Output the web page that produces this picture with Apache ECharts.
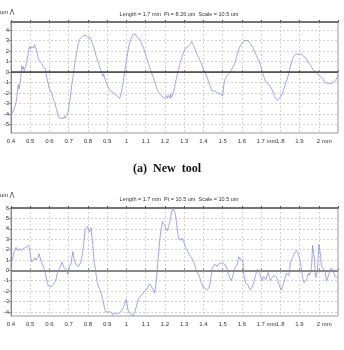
<!DOCTYPE html>
<html>
<head>
<meta charset="utf-8">
<script src="https://cdn.jsdelivr.net/npm/echarts@6/dist/echarts.min.js"></script>
<style>
html, body { margin: 0; padding: 0; background: #fff; }
#main { width: 344px; height: 350px; }
</style>
</head>
<body>
<div id="main"></div>
<script>
// tick labels
var xTickLabels = ['0.4', '0.5', '0.6', '0.7', '0.8', '0.9', '1', '1.1', '1.2', '1.3', '1.4', '1.5', '1.6', '1.7 mm', '1.8', '1.9', '2 mm', ''];
var yTicksTop = [-5, -4, -3, -2, -1, 0, 1, 2, 3, 4];
var yTicksBottom = [-4, -3, -2, -1, 0, 1, 2, 3, 4, 5, 6];

// profile of the new tool, [mm, um]
var newTool = [
  [0.400,-4.3],[0.405,-3.9],[0.410,-4.0],[0.415,-3.6],[0.421,-3.5],[0.426,-2.9],[0.430,-2.5],[0.434,-1.7],[0.438,-1.2],[0.442,-1.6],
  [0.447,-1.5],[0.451,-0.5],[0.456,0.6],[0.460,0.3],[0.464,0.5],[0.468,0.1],[0.473,0.0],[0.477,0.6],[0.482,1.0],[0.487,1.6],
  [0.491,2.0],[0.496,2.4],[0.500,2.2],[0.504,2.4],[0.508,2.3],[0.513,2.5],[0.517,2.3],[0.522,2.6],[0.526,2.5],[0.530,2.2],
  [0.534,2.0],[0.538,1.7],[0.543,1.2],[0.547,1.3],[0.551,1.0],[0.556,1.1],[0.560,0.8],[0.565,0.7],[0.569,0.5],[0.574,0.4],
  [0.578,0.3],[0.582,-0.1],[0.586,-0.5],[0.590,-0.9],[0.594,-1.1],[0.598,-1.5],[0.603,-1.7],[0.607,-1.8],[0.612,-2.0],[0.616,-2.3],
  [0.621,-2.6],[0.625,-2.8],[0.630,-3.0],[0.634,-3.4],[0.638,-3.6],[0.643,-4.0],[0.647,-4.3],[0.652,-4.4],[0.656,-4.3],[0.660,-4.4],
  [0.665,-4.4],[0.669,-4.3],[0.673,-4.4],[0.678,-4.2],[0.682,-4.4],[0.686,-4.2],[0.691,-4.3],[0.695,-4.0],[0.699,-3.5],[0.703,-3.0],
  [0.707,-2.6],[0.712,-1.8],[0.716,-1.2],[0.721,-0.6],[0.726,0.0],[0.730,0.6],[0.734,1.1],[0.739,1.6],[0.743,2.0],[0.747,2.5],
  [0.752,2.8],[0.756,3.1],[0.760,3.2],[0.765,3.3],[0.769,3.4],[0.773,3.3],[0.778,3.5],[0.782,3.6],[0.786,3.6],[0.790,3.5],
  [0.795,3.6],[0.799,3.3],[0.804,3.4],[0.808,3.2],[0.812,3.3],[0.817,3.0],[0.821,2.8],[0.825,2.6],[0.830,2.4],[0.834,2.1],
  [0.839,1.8],[0.843,1.5],[0.847,1.3],[0.852,1.0],[0.856,0.8],[0.860,0.5],[0.865,0.3],[0.869,0.1],[0.873,0.0],[0.878,-0.4],
  [0.882,-0.2],[0.886,-0.5],[0.891,-0.8],[0.895,-1.0],[0.900,-1.2],[0.904,-1.4],[0.908,-1.5],[0.913,-1.7],[0.917,-1.8],[0.921,-1.7],
  [0.926,-1.9],[0.930,-1.8],[0.934,-2.0],[0.939,-2.1],[0.943,-2.0],[0.947,-2.2],[0.952,-2.3],[0.956,-2.2],[0.960,-2.4],[0.964,-2.5],
  [0.969,-2.3],[0.973,-2.0],[0.978,-1.5],[0.982,-1.1],[0.987,-0.5],[0.991,0.0],[0.995,0.5],[0.999,1.0],[1.004,1.5],[1.008,2.0],
  [1.013,2.5],[1.017,2.8],[1.022,3.1],[1.027,3.3],[1.031,3.4],[1.035,3.6],[1.039,3.6],[1.044,3.5],[1.048,3.6],[1.052,3.4],
  [1.056,3.4],[1.061,3.2],[1.065,3.3],[1.069,3.1],[1.074,3.0],[1.078,2.7],[1.082,2.6],[1.087,2.4],[1.091,2.2],[1.095,1.9],
  [1.100,1.7],[1.104,1.4],[1.108,1.2],[1.113,0.9],[1.117,0.7],[1.121,0.4],[1.126,0.2],[1.130,-0.1],[1.135,-0.3],[1.140,-0.5],
  [1.144,-0.8],[1.148,-1.0],[1.152,-1.2],[1.157,-1.5],[1.161,-1.7],[1.165,-1.8],[1.169,-2.0],[1.174,-2.1],[1.178,-1.9],[1.182,-2.2],
  [1.187,-2.3],[1.191,-2.1],[1.195,-2.5],[1.200,-2.4],[1.204,-2.6],[1.208,-2.3],[1.213,-2.5],[1.217,-2.2],[1.222,-2.3],[1.226,-2.5],
  [1.230,-2.1],[1.235,-2.4],[1.239,-2.2],[1.245,-1.9],[1.250,-1.5],[1.255,-1.0],[1.260,-0.6],[1.265,-0.2],[1.270,0.2],[1.275,0.6],
  [1.280,0.9],[1.285,1.2],[1.290,1.5],[1.295,1.8],[1.300,2.0],[1.305,2.2],[1.310,2.3],[1.315,2.2],[1.320,2.4],[1.325,2.5],
  [1.330,2.6],[1.335,2.7],[1.340,2.9],[1.345,2.7],[1.350,2.5],[1.355,2.3],[1.360,2.0],[1.365,1.8],[1.370,1.6],[1.375,1.4],
  [1.380,1.2],[1.385,1.0],[1.390,0.8],[1.395,0.5],[1.400,0.3],[1.405,0.1],[1.410,-0.1],[1.415,-0.3],[1.420,-0.5],[1.425,-0.8],
  [1.430,-1.0],[1.435,-1.3],[1.440,-1.6],[1.445,-1.8],[1.450,-1.9],[1.455,-1.9],[1.460,-1.8],[1.465,-1.9],[1.470,-1.8],[1.475,-2.0],
  [1.480,-1.9],[1.485,-2.0],[1.490,-2.1],[1.495,-2.2],[1.500,-2.3],[1.503,-1.8],[1.507,-1.2],[1.511,-0.8],[1.515,-0.6],[1.520,-0.4],
  [1.525,-0.3],[1.530,-0.2],[1.535,-0.1],[1.540,0.0],[1.545,0.2],[1.550,0.3],[1.555,0.5],[1.560,0.6],[1.565,0.9],[1.570,1.3],
  [1.575,1.6],[1.580,1.9],[1.585,2.2],[1.590,2.4],[1.595,2.6],[1.600,2.7],[1.605,2.8],[1.610,2.9],[1.615,3.0],[1.620,2.9],
  [1.625,3.0],[1.630,3.0],[1.635,2.9],[1.640,2.9],[1.645,2.7],[1.650,2.6],[1.655,2.4],[1.660,2.2],[1.665,2.0],[1.670,1.8],
  [1.675,1.6],[1.680,1.4],[1.685,1.2],[1.690,1.0],[1.695,0.7],[1.700,0.5],[1.705,0.1],[1.710,-0.2],[1.715,-0.5],[1.720,-0.7],
  [1.725,-0.9],[1.730,-1.0],[1.735,-1.1],[1.740,-1.2],[1.745,-1.3],[1.750,-1.4],[1.755,-1.6],[1.760,-1.8],[1.765,-2.0],[1.770,-2.3],
  [1.775,-2.5],[1.780,-2.6],[1.785,-2.7],[1.790,-2.6],[1.795,-2.7],[1.800,-2.4],[1.805,-2.3],[1.810,-2.1],[1.815,-1.8],[1.820,-1.5],
  [1.825,-1.2],[1.830,-0.9],[1.835,-0.7],[1.840,-0.4],[1.845,0.0],[1.850,0.4],[1.855,0.7],[1.860,1.0],[1.865,1.3],[1.870,1.5],
  [1.875,1.6],[1.880,1.7],[1.885,1.8],[1.890,1.8],[1.895,1.7],[1.900,1.6],[1.905,1.7],[1.910,1.7],[1.915,1.6],[1.920,1.5],
  [1.925,1.6],[1.930,1.4],[1.935,1.3],[1.940,1.1],[1.945,1.0],[1.950,0.8],[1.955,0.7],[1.960,0.6],[1.965,0.4],[1.970,0.2],
  [1.975,0.3],[1.980,0.1],[1.985,0.0],[1.990,-0.1],[1.995,-0.2],[2.000,-0.3],[2.005,-0.4],[2.010,-0.5],[2.015,-0.5],[2.020,-0.6],
  [2.025,-0.8],[2.030,-0.9],[2.035,-1.0],[2.040,-1.0],[2.045,-1.1],[2.050,-1.1],[2.055,-1.0],[2.060,-1.0],[2.065,-1.1],[2.070,-1.1],
  [2.075,-1.0],[2.080,-0.9],[2.085,-0.8],[2.090,-0.7],[2.095,-0.5],[2.100,-0.3]
];

// profile of the worn tool, [mm, um]
var wornTool = [
  [0.400,0.5],[0.404,0.9],[0.409,1.2],[0.415,1.7],[0.421,2.0],[0.426,2.2],[0.430,2.2],[0.434,1.9],[0.438,1.9],[0.443,2.1],
  [0.447,2.1],[0.451,1.9],[0.456,1.9],[0.460,2.0],[0.464,2.1],[0.470,2.0],[0.474,2.2],[0.478,2.2],[0.484,2.1],[0.491,2.4],
  [0.495,2.2],[0.499,1.8],[0.503,1.2],[0.508,0.8],[0.512,0.9],[0.517,1.0],[0.521,1.1],[0.525,1.2],[0.530,1.0],[0.534,0.9],
  [0.540,1.2],[0.546,1.6],[0.550,1.3],[0.555,1.0],[0.560,0.7],[0.565,0.5],[0.571,0.2],[0.578,-0.2],[0.582,-0.6],[0.586,-1.0],
  [0.590,-1.3],[0.595,-1.5],[0.600,-1.4],[0.604,-1.4],[0.608,-1.6],[0.612,-1.5],[0.618,-1.4],[0.625,-1.4],[0.630,-1.1],[0.635,-0.8],
  [0.638,-0.5],[0.642,-0.2],[0.648,0.0],[0.656,0.3],[0.660,0.5],[0.665,0.8],[0.671,0.5],[0.677,0.2],[0.682,0.3],[0.687,0.3],
  [0.690,0.0],[0.694,-0.4],[0.700,0.0],[0.705,0.4],[0.712,0.6],[0.716,1.2],[0.722,1.8],[0.725,1.4],[0.729,1.0],[0.734,0.7],
  [0.739,0.5],[0.745,0.5],[0.752,0.4],[0.758,0.5],[0.764,0.8],[0.770,1.5],[0.774,2.0],[0.778,2.5],[0.782,3.3],[0.786,4.0],
  [0.792,4.1],[0.799,4.2],[0.803,3.9],[0.807,3.7],[0.812,3.9],[0.816,4.1],[0.820,3.4],[0.825,2.5],[0.829,1.5],[0.833,0.6],
  [0.839,0.2],[0.843,-0.5],[0.847,-1.0],[0.853,-1.5],[0.860,-1.8],[0.865,-2.0],[0.870,-2.3],[0.875,-2.7],[0.879,-3.0],[0.885,-3.5],
  [0.891,-4.0],[0.897,-3.9],[0.903,-4.0],[0.910,-4.1],[0.917,-4.0],[0.924,-4.1],[0.931,-4.3],[0.937,-4.1],[0.943,-4.0],[0.948,-4.2],
  [0.952,-4.3],[0.958,-4.1],[0.964,-4.1],[0.971,-4.0],[0.978,-3.8],[0.984,-3.6],[0.990,-3.3],[0.995,-3.0],[0.999,-2.8],[1.004,-3.3],
  [1.008,-3.8],[1.014,-4.0],[1.021,-4.2],[1.028,-4.3],[1.035,-4.4],[1.040,-4.2],[1.044,-4.0],[1.050,-3.6],[1.056,-3.2],[1.062,-2.8],
  [1.068,-2.6],[1.075,-2.5],[1.082,-2.3],[1.088,-2.2],[1.095,-2.0],[1.101,-1.9],[1.108,-1.8],[1.114,-1.5],[1.121,-1.3],[1.128,-1.5],
  [1.135,-1.6],[1.141,-1.9],[1.147,-2.2],[1.151,-1.6],[1.155,-1.0],[1.160,0.0],[1.164,1.0],[1.170,2.2],[1.175,3.2],[1.181,4.0],
  [1.187,4.7],[1.193,4.5],[1.199,4.3],[1.206,4.0],[1.213,3.8],[1.219,4.2],[1.225,4.6],[1.230,5.1],[1.235,5.6],[1.242,6.0],
  [1.249,6.0],[1.255,5.4],[1.261,4.5],[1.266,3.7],[1.272,3.0],[1.278,2.9],[1.284,2.9],[1.290,3.1],[1.296,3.0],[1.301,2.6],
  [1.307,2.2],[1.313,2.0],[1.319,1.8],[1.327,1.5],[1.336,1.3],[1.342,1.1],[1.349,1.0],[1.354,0.6],[1.359,0.2],[1.365,-0.1],
  [1.371,-0.3],[1.377,-0.5],[1.383,-0.8],[1.390,-1.2],[1.397,-1.6],[1.403,-1.6],[1.409,-1.7],[1.416,-1.9],[1.423,-2.0],[1.429,-1.7],
  [1.436,-1.2],[1.441,-0.5],[1.446,0.2],[1.452,0.4],[1.458,0.6],[1.465,0.5],[1.472,0.4],[1.478,0.6],[1.484,0.5],[1.491,0.7],
  [1.498,0.8],[1.504,0.7],[1.510,0.6],[1.517,0.4],[1.523,0.2],[1.528,-0.2],[1.533,-0.5],[1.539,-0.8],[1.544,-1.0],[1.549,-0.8],
  [1.554,-0.5],[1.559,-0.1],[1.564,0.2],[1.570,0.4],[1.577,0.6],[1.581,1.0],[1.585,1.3],[1.591,1.1],[1.597,1.2],[1.602,1.0],
  [1.606,0.8],[1.611,-0.5],[1.616,-0.9],[1.620,-1.2],[1.626,-1.3],[1.632,-1.4],[1.638,-1.7],[1.644,-1.9],[1.651,-1.7],[1.658,-1.4],
  [1.664,-1.0],[1.671,-0.5],[1.676,-0.2],[1.681,0.1],[1.687,-0.1],[1.693,-0.3],[1.699,-0.7],[1.705,-1.0],[1.710,-0.8],[1.714,-0.6],
  [1.720,-0.7],[1.725,-0.9],[1.731,-0.5],[1.737,-0.2],[1.743,-0.6],[1.749,-1.0],[1.754,-0.8],[1.759,-0.7],[1.766,-0.5],[1.772,-0.4],
  [1.778,-0.6],[1.784,-0.8],[1.789,-1.1],[1.794,-1.4],[1.800,-1.7],[1.806,-1.9],[1.812,-1.5],[1.818,-1.2],[1.825,-0.7],[1.832,-0.3],
  [1.838,-0.4],[1.845,-0.5],[1.849,0.2],[1.853,0.8],[1.858,1.0],[1.864,1.2],[1.870,1.5],[1.876,1.7],[1.881,1.8],[1.885,1.9],
  [1.890,1.7],[1.895,1.5],[1.899,1.2],[1.902,0.9],[1.907,0.4],[1.911,0.0],[1.915,-0.5],[1.919,-1.0],[1.924,-1.2],[1.928,-1.3],
  [1.933,-1.1],[1.937,-0.9],[1.941,-0.6],[1.946,-0.3],[1.950,-0.5],[1.954,-0.6],[1.959,-0.1],[1.963,0.5],[1.966,1.6],[1.968,2.4],
  [1.972,2.4],[1.975,2.3],[1.978,1.0],[1.982,-0.5],[1.986,-0.7],[1.989,-0.8],[1.993,0.0],[1.996,0.8],[1.999,1.9],[2.001,2.5],
  [2.004,2.4],[2.007,2.4],[2.010,1.3],[2.014,0.4],[2.019,0.3],[2.024,0.2],[2.029,0.0],[2.033,-0.2],[2.037,-0.6],[2.041,-1.0],
  [2.047,-0.7],[2.054,-0.3],[2.058,0.0],[2.062,0.2],[2.068,0.2],[2.073,0.1],[2.079,-0.3],[2.085,-0.6],[2.092,-0.6],[2.099,-0.7]
];

var lineColor = '#8c8cf0';
var labelFont = 'Liberation Sans';

// labels carrying a unit keep the number centred on the tick
function xLabel(v) {
  var s = xTickLabels[Math.round((v - 0.4) * 10)] || '';
  if (s.indexOf(' mm') > 0) return '{p|}' + s;
  return s;
}

function bottomXAxis(gridIndex) {
  return {
    gridIndex: gridIndex, type: 'value', position: 'bottom',
    min: 0.4, max: 2.1, interval: 0.1,
    axisLine: { show: true, lineStyle: { color: '#888', width: 1 } },
    axisTick: { show: true, length: 2, inside: true, lineStyle: { color: '#888' } },
    axisLabel: {
      fontSize: 6, color: '#333', margin: 5, fontFamily: labelFont,
      formatter: xLabel,
      rich: { p: { width: 11, fontSize: 6 } }
    },
    splitLine: { show: true, lineStyle: { color: '#c8c8c8', type: [2, 2], width: 0.8 } }
  };
}

function topXAxis(gridIndex) {
  return {
    gridIndex: gridIndex, type: 'value', position: 'top',
    min: 0.4, max: 2.1, interval: 0.1,
    axisLine: { show: true, lineStyle: { color: '#555', width: 1.5 } },
    axisTick: { show: true, length: 2, lineStyle: { color: '#555' } },
    axisLabel: { show: false },
    splitLine: { show: false }
  };
}

function yAxisFor(gridIndex, min, max, ticks) {
  return {
    gridIndex: gridIndex, type: 'value', min: min, max: max,
    axisLine: { show: true, lineStyle: { color: '#888' } },
    axisTick: { show: true, length: 2, customValues: ticks, lineStyle: { color: '#888' } },
    axisLabel: { customValues: ticks, fontSize: 6, color: '#333', margin: 2, fontFamily: labelFont },
    splitLine: { show: true, lineStyle: { color: '#c8c8c8', type: [2, 2], width: 0.8 } }
  };
}

function profileSeries(idx, data, zeroColor, zeroWidth) {
  return {
    type: 'line', xAxisIndex: idx, yAxisIndex: idx, data: data,
    symbol: 'none', showSymbol: false, clip: true,
    lineStyle: { color: lineColor, width: 0.8 },
    markLine: {
      silent: true, symbol: 'none', label: { show: false },
      lineStyle: { color: zeroColor, width: zeroWidth, type: 'solid' },
      data: [{ yAxis: 0 }]
    }
  };
}

var myChart = echarts.init(document.getElementById('main'), null, { renderer: 'canvas' });
var option = {
  animation: false,
  backgroundColor: '#fff',
  title: [
    { text: 'Length = 1.7 mm  Pt = 8.26 um  Scale = 10.5 um', left: 174, top: 6, textAlign: 'center',
      textStyle: { fontSize: 5.5, fontWeight: 'normal', color: '#333', fontFamily: labelFont } },
    { text: 'Length = 1.7 mm  Pt = 10.5 um  Scale = 10.5 um', left: 174, top: 191, textAlign: 'center',
      textStyle: { fontSize: 5.5, fontWeight: 'normal', color: '#333', fontFamily: labelFont } }
  ],
  grid: [
    { left: 11, top: 22, width: 327, height: 111, show: true, borderColor: '#999', borderWidth: 1, backgroundColor: 'transparent' },
    { left: 11, top: 208, width: 327, height: 108, show: true, borderColor: '#999', borderWidth: 1, backgroundColor: 'transparent' }
  ],
  xAxis: [bottomXAxis(0), bottomXAxis(1), topXAxis(0), topXAxis(1)],
  yAxis: [yAxisFor(0, -5.8, 4.76, yTicksTop), yAxisFor(1, -4.4, 6, yTicksBottom)],
  series: [
    profileSeries(0, newTool, '#444', 1.5),
    profileSeries(1, wornTool, '#888', 2)
  ],
  graphic: [
    { type: 'text', left: 0, top: 9, style: { text: 'um', fontSize: 6, fill: '#333', fontFamily: labelFont } },
    { type: 'polyline', shape: { points: [[10, 15], [12, 9], [14, 15]] }, style: { stroke: '#555', lineWidth: 0.8, fill: null } },
    { type: 'text', left: 0, top: 192, style: { text: 'um', fontSize: 6, fill: '#333', fontFamily: labelFont } },
    { type: 'polyline', shape: { points: [[10, 198], [12, 192], [14, 198]] }, style: { stroke: '#555', lineWidth: 0.8, fill: null } },
    { type: 'text', x: 167, y: 169, style: { text: '(a)  New  tool', fontSize: 12, fontWeight: 'bold', fill: '#111',
      fontFamily: 'Liberation Serif', align: 'center', verticalAlign: 'middle' } }
  ]
};
myChart.setOption(option);
</script>
</body>
</html>
